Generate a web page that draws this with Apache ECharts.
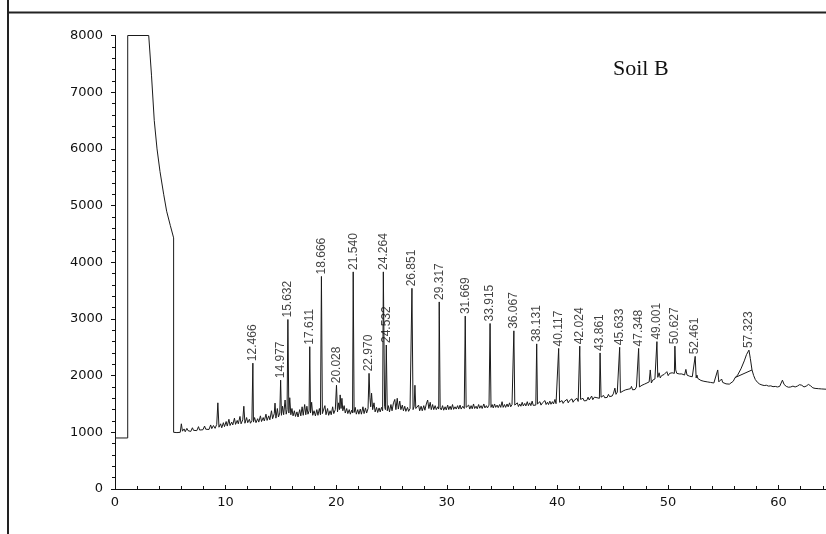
<!DOCTYPE html>
<html><head><meta charset="utf-8">
<script src="https://cdn.jsdelivr.net/npm/echarts@6/dist/echarts.min.js"></script>
<style>html,body{margin:0;padding:0;background:#fff}#c{width:826px;height:534px}</style>
</head><body><div id="c"></div>
<script>
// ---- data (retention time in min, detector response) ----
const solventTime   = [0, 1.15, 1.15, 3.05, 3.3, 3.55, 3.8, 4.07, 4.4, 4.67, 5.0, 5.3, 5.3];
const solventSignal = [900, 900, 8000, 8000, 7300, 6500, 6000, 5600, 5200, 4900, 4650, 4430, 1000];

const baselineTrace = [
[5.30,1000],[5.45,1005],[5.60,995],[5.75,1010],[5.90,1000],[6.00,1150],[6.10,1020],[6.25,1060],[6.35,1010],[6.50,1070],
[6.60,1030],[6.75,1050],[6.85,1015],[7.00,1080],[7.10,1035],[7.25,1060],[7.40,1030],[7.55,1100],[7.65,1040],[7.80,1075],
[7.95,1045],[8.10,1110],[8.20,1055],[8.35,1090],[8.50,1050],[8.65,1130],[8.75,1065],[8.90,1120],[9.05,1070],[9.20,1140],
[9.30,1520],[9.40,1090],[9.55,1150],[9.65,1080],[9.80,1170],[9.90,1100],[10.05,1190],[10.15,1110],[10.30,1230],[10.40,1120],
[10.55,1180],[10.65,1130],[10.80,1250],[10.90,1140],[11.05,1210],[11.15,1150],[11.30,1280],[11.40,1150],[11.55,1220],[11.65,1460],
[11.75,1160],[11.90,1260],[12.00,1170],[12.15,1230],[12.25,1160],[12.38,1210],[12.52,1180],[12.62,1260],[12.75,1170],[12.90,1240],
[13.00,1180],[13.15,1290],[13.25,1190],[13.40,1260],[13.50,1200],[13.65,1320],[13.75,1210],[13.90,1290],[14.00,1220],[14.15,1380],
[14.25,1240],[14.40,1330],[14.47,1515],[14.55,1250],[14.68,1420],[14.78,1270],[14.90,1340],[15.05,1300],[15.15,1460],[15.25,1310],
[15.38,1570],[15.48,1320],[15.56,1400],[15.72,1340],[15.80,1610],[15.90,1310],[16.00,1420],[16.10,1290],[16.22,1380],[16.32,1280],
[16.45,1360],[16.55,1270],[16.70,1400],[16.80,1290],[16.92,1450],[17.02,1300],[17.15,1490],[17.25,1310],[17.35,1460],[17.45,1320],
[17.55,1380],[17.68,1340],[17.78,1530],[17.88,1300],[18.00,1380],[18.12,1290],[18.25,1400],[18.35,1300],[18.48,1420],[18.58,1310],
[18.75,1330],[18.85,1300],[18.98,1470],[19.08,1310],[19.22,1420],[19.32,1300],[19.45,1380],[19.55,1310],[19.68,1450],[19.78,1330],
[19.92,1400],[20.12,1360],[20.22,1520],[20.30,1400],[20.36,1660],[20.44,1420],[20.52,1600],[20.60,1380],[20.72,1470],[20.82,1340],
[20.95,1420],[21.05,1330],[21.18,1400],[21.28,1320],[21.40,1390],[21.48,1340],[21.62,1350],[21.72,1440],[21.82,1320],[21.95,1400],
[22.05,1320],[22.18,1410],[22.28,1320],[22.42,1450],[22.52,1330],[22.65,1430],[22.75,1340],[22.88,1420],[23.05,1620],[23.12,1450],
[23.20,1690],[23.30,1400],[23.42,1520],[23.52,1360],[23.65,1440],[23.75,1350],[23.88,1430],[23.98,1360],[24.10,1440],[24.20,1380],
[24.38,1460],[24.45,1400],[24.62,1380],[24.72,1470],[24.82,1360],[24.95,1490],[25.05,1380],[25.18,1520],[25.30,1580],[25.40,1400],
[25.52,1600],[25.62,1410],[25.75,1550],[25.85,1400],[25.98,1480],[26.08,1380],[26.20,1460],[26.30,1370],[26.45,1440],[26.55,1370],
[26.68,1420],[26.78,1390],[26.95,1400],[27.05,1460],[27.12,1830],[27.20,1420],[27.32,1390],[27.45,1480],[27.55,1380],[27.68,1460],
[27.78,1380],[27.92,1470],[28.02,1390],[28.15,1500],[28.27,1570],[28.38,1420],[28.50,1530],[28.60,1400],[28.72,1490],[28.82,1400],
[28.95,1470],[29.05,1400],[29.18,1450],[29.27,1410],[29.40,1440],[29.50,1395],[29.62,1470],[29.72,1390],[29.85,1450],[29.95,1395],
[30.08,1480],[30.18,1400],[30.30,1460],[30.40,1400],[30.52,1490],[30.62,1405],[30.75,1450],[30.85,1410],[30.98,1470],[31.08,1410],
[31.20,1480],[31.30,1410],[31.45,1460],[31.58,1420],[31.75,1440],[31.85,1405],[31.98,1480],[32.08,1410],[32.20,1470],[32.30,1415],
[32.42,1500],[32.52,1420],[32.65,1460],[32.75,1415],[32.88,1490],[32.98,1425],[33.10,1470],[33.20,1420],[33.35,1500],[33.45,1430],
[33.58,1470],[33.68,1430],[33.82,1480],[34.00,1440],[34.10,1490],[34.20,1430],[34.32,1500],[34.42,1440],[34.55,1480],[34.65,1435],
[34.78,1490],[34.88,1440],[35.00,1540],[35.10,1440],[35.22,1490],[35.32,1440],[35.45,1500],[35.55,1450],[35.68,1520],[35.78,1450],
[35.90,1490],[36.00,1460],[36.15,1480],[36.25,1450],[36.38,1520],[36.48,1455],[36.60,1500],[36.70,1460],[36.82,1530],[36.92,1465],
[37.05,1510],[37.15,1465],[37.28,1540],[37.38,1470],[37.50,1520],[37.60,1470],[37.72,1550],[37.82,1475],[37.95,1510],[38.05,1480],
[38.20,1500],[38.30,1470],[38.42,1540],[38.52,1480],[38.65,1520],[38.75,1485],[38.88,1560],[38.98,1490],[39.10,1530],[39.20,1490],
[39.32,1550],[39.42,1495],[39.55,1540],[39.65,1500],[39.78,1580],[39.88,1505],[40.00,1540],[40.06,1510],[40.20,1530],[40.30,1500],
[40.42,1560],[40.52,1510],[40.65,1550],[40.75,1515],[40.88,1580],[40.98,1520],[41.10,1560],[41.20,1525],[41.32,1590],[41.42,1530],
[41.55,1570],[41.65,1535],[41.78,1600],[41.88,1545],[41.98,1560],[42.10,1580],[42.20,1545],[42.32,1600],[42.42,1555],[42.55,1590],
[42.65,1560],[42.78,1620],[42.88,1570],[43.00,1600],[43.10,1640],[43.20,1575],[43.35,1620],[43.45,1585],[43.58,1610],[43.70,1640],
[43.80,1600],[43.95,1620],[44.05,1595],[44.18,1650],[44.28,1610],[44.40,1640],[44.50,1615],[44.62,1670],[44.72,1630],[44.85,1660],
[44.95,1640],[45.08,1690],[45.20,1780],[45.30,1670],[45.42,1710],[45.50,1680],[45.70,1700],[45.82,1680],[45.95,1730],[46.05,1700],
[46.18,1750],[46.28,1715],[46.40,1760],[46.50,1730],[46.62,1770],[46.70,1810],[46.80,1750],[46.92,1780],[47.02,1755],[47.15,1800],
[47.25,1770],[47.42,1800],[47.52,1775],[47.65,1830],[47.75,1800],[47.88,1850],[47.98,1820],[48.10,1870],[48.20,1840],[48.30,1890],
[48.40,2100],[48.50,1870],[48.62,1920],[48.72,1890],[48.82,1940],[48.93,1920],[49.08,1970],[49.20,2050],[49.30,1960],[49.42,2000],
[49.52,1970],[49.65,2020],[49.75,1990],[49.90,2070],[50.02,2000],[50.15,2040],[50.25,2010],[50.38,2050],[50.50,2030],[50.58,2040],
[50.70,2100],[50.80,2040],[50.92,2060],[51.02,2030],[51.15,2060],[51.25,2030],[51.38,2050],[51.50,2010],[51.62,2110],[51.72,2010],
[51.85,2020],[51.95,1990],[52.08,2010],[52.20,1980],[52.35,1995],[52.55,1960],[52.62,2010],[52.70,1950],[52.85,1940],[52.98,1915],
[53.10,1930],[53.25,1900],[53.40,1915],[53.55,1890],[53.70,1900],[53.85,1880],[54.00,1885],[54.15,1870],[54.30,1880],[54.50,2100],
[54.60,1890],[54.72,1910],[54.85,1940],[54.95,1880],[55.10,1870],[55.25,1855],[55.40,1865],[55.55,1850],[55.70,1870],[55.90,1900],
[56.06,1960],[56.30,2010],[56.60,2120],[56.90,2260],[57.10,2370],[57.45,2300],[57.60,2100],[57.75,2000],[57.90,1930],[58.10,1880],
[58.30,1850],[58.50,1835],[58.70,1825],[58.90,1830],[59.10,1815],[59.30,1820],[59.50,1805],[59.70,1810],[59.90,1800],[60.10,1810],
[60.22,1840],[60.35,1920],[60.50,1845],[60.70,1810],[60.90,1795],[61.10,1800],[61.30,1815],[61.50,1800],[61.70,1815],[61.90,1840],
[62.10,1830],[62.30,1800],[62.50,1815],[62.70,1845],[62.90,1820],[63.10,1785],[63.30,1775],[63.60,1770],[63.90,1765],[64.30,1760]
];

const peakLabels  = ['12.466','14.977','15.632','17.611','18.666','20.028','21.540','22.970','24.264','24.532','26.851','29.317','31.669',
                     '33.915','36.067','38.131','40.117','42.024','43.861','45.633','47.348','49.001','50.627','52.461','57.323'];
const peakTimes   = [12.466,14.977,15.632,17.611,18.666,20.028,21.540,22.970,24.264,24.532,26.851,29.317,31.669,
                     33.915,36.067,38.131,40.117,42.024,43.861,45.633,47.348,49.001,50.627,52.461,57.323];
const peakHeights = [2220,1920,2990,2510,3750,1830,3830,2040,3830,2540,3540,3300,3050,
                     2920,2790,2560,2480,2520,2400,2500,2480,2600,2520,2340,2450];

const integrationTime   = [56.06, 57.6];
const integrationSignal = [1965, 2100];

const yTicks = [0,1000,2000,3000,4000,5000,6000,7000,8000];
const xTicks = [0,10,20,30,40,50,60];

// ---- build series ----
const solventData = solventTime.map((t,i)=>[t, solventSignal[i]]);
const peakData = peakTimes.map((t,i)=>[t, peakHeights[i]]);
const tail = baselineTrace.concat(peakData).sort((a,b)=>a[0]-b[0]);
const traceData = solventData.concat(tail);
const integData = integrationTime.map((t,i)=>[t, integrationSignal[i]]);

const axisFont = {fontFamily:'DejaVu Sans', fontSize:13, color:'#111'};
const chart = echarts.init(document.getElementById('c'), null, {renderer:'canvas'});
chart.setOption({
  animation:false,
  backgroundColor:'#fff',
  grid:{left:115, right:0, top:35.5, bottom:45, containLabel:false},
  xAxis:{type:'value', min:0, max:64.29, interval:10,
    axisLine:{onZero:false, lineStyle:{color:'#111', width:1}},
    axisTick:{show:true, inside:true, length:4, lineStyle:{color:'#111'}},
    minorTick:{show:true, splitNumber:5, length:3, lineStyle:{color:'#111'}},
    splitLine:{show:false},
    axisLabel:Object.assign({margin:7, showMaxLabel:false,
      formatter:v=> xTicks.indexOf(v)>=0 ? String(v) : ''}, axisFont)
  },
  yAxis:{type:'value', min:0, max:8000, interval:1000,
    axisLine:{show:true, lineStyle:{color:'#111', width:1}},
    axisTick:{show:true, length:4, lineStyle:{color:'#111'}},
    minorTick:{show:true, splitNumber:5, length:3, lineStyle:{color:'#111'}},
    splitLine:{show:false},
    axisLabel:Object.assign({margin:12, formatter:v=> yTicks.indexOf(v)>=0 ? String(v) : ''}, axisFont)
  },
  series:[
    {type:'line', data:traceData, showSymbol:false, symbol:'none', sampling:null,
     lineStyle:{color:'#1a1a1a', width:1}, z:3},
    {type:'line', data:integData, showSymbol:false, symbol:'none',
     lineStyle:{color:'#1a1a1a', width:1}, z:3},
    {type:'scatter', data:peakData, symbolSize:0, z:4,
     label:{show:true, position:'top', distance:2, rotate:90, align:'left', verticalAlign:'middle',
       fontFamily:'Liberation Sans', fontSize:12, color:'#111',
       formatter:p=>peakLabels[p.dataIndex]}}
  ],
  graphic:[
    {type:'line', shape:{x1:8, y1:0, x2:8, y2:534}, style:{stroke:'#222', lineWidth:2}},
    {type:'line', shape:{x1:7, y1:12.5, x2:826, y2:12.5}, style:{stroke:'#222', lineWidth:2}},
    {type:'text', left:613, top:58, style:{text:'Soil B', font:'22px "Liberation Serif"', fill:'#111'}}
  ]
});
</script></body></html>
